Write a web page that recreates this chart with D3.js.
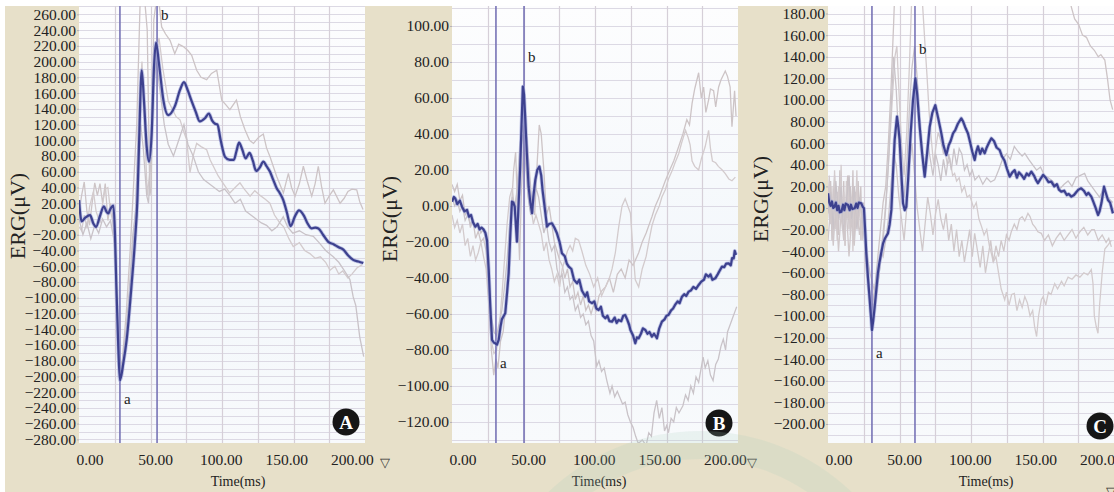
<!DOCTYPE html>
<html>
<head>
<meta charset="utf-8">
<script src="https://cdn.jsdelivr.net/npm/d3@7"></script>
<style>
body { margin: 0; background: #fff; }
svg { display: block; font-family: "Liberation Serif", "Times New Roman", serif; }
</style>
</head>
<body>
<svg width="1114" height="492"></svg>
<script>
// ---- data: [time (ms), amplitude (µV)] ----
var xTicks = [0, 50, 100, 150, 200];

var aTicks = d3.range(-280, 261, 20);
var bTicks = d3.range(-120, 101, 20);
var cTicks = d3.range(-200, 181, 20);

// a / b wave cursor positions (ms)
var aMarks = [23.2, 51.5];
var bMarks = [25.5, 46.9];
var cMarks = [25.5, 58.3];

var aLabels = [["a", 23.2, -235], ["b", 51.5, 253]];
var bLabels = [["a", 25.5, -90], ["b", 46.9, 80]];
var cLabels = [["a", 25.5, -139], ["b", 58.3, 143]];

var aMain = [[-8,24],[-6,-3],[-3,2],[0.4,5],[3,-6],[5,-10],[8,4],[11,16],[13,9],[14.3,7],[16,13],[18.2,17],[19.4,-18],[20.4,-81],[22,-166],[23.2,-205],[25.8,-183],[28.3,-154],[32.2,-81],[34.7,-27],[36.5,24],[38,109],[39.8,189],[41.5,151],[43.6,92],[45.4,73],[47.4,109],[49.2,194],[50.7,224],[53.2,194],[56.3,151],[60,132],[65,143],[69,164],[72,174],[75,163],[78,149],[81,136],[84,124],[88,128],[91,134],[93.5,125],[95.7,121],[97.5,120],[100,100],[103.3,79],[107,75],[110,75],[112,86],[114,97],[116.5,88],[119,77],[122,84],[124.5,74],[127,61],[130,66],[132.5,73],[135,67],[137.6,60],[140,50],[142.7,39],[145,33],[147.7,24],[150.5,8],[153.3,-9],[156.5,3],[159.7,11],[163.5,4],[166,-5],[169.3,-12],[172,-11],[174.5,-12],[178,-20],[182,-29],[186,-32],[190,-36],[193.5,-39],[197,-46],[201,-52],[205,-54],[208.7,-56]];

var aGray1 = [[-8,8],[-6,30],[-4,47],[-2,10],[0,-8],[2,20],[4,46],[6,30],[8,45],[10,20],[12,45],[14,-2],[16,20],[17.5,7],[19.5,-40],[21,-110],[23,-190],[25,-180],[28,-120],[31,-40],[33,24],[36,120],[38.5,270],[40,300],[42,280],[44,240],[46,30],[47,40],[49,253],[52,290],[55,244],[58,235],[61.4,227],[65,210],[68,222],[71.5,219],[75,214],[77.9,208],[81.7,189],[85,180],[89.3,177],[93,185],[97,189],[100.8,151],[104,145],[107,139],[112,151],[115,130],[118.6,113],[122,100],[125,96],[129,104],[132.5,108],[135,90],[137.6,79],[142.7,54],[147.8,33],[151.6,58],[154,40],[156.7,29],[160,45],[163,67],[166,48],[169.4,29],[172,45],[174.4,67],[177,40],[179.5,20],[183,30],[185.9,37],[188,30],[191,20],[194,26],[197,35],[200,38],[203.7,37],[206,22],[208.5,12]];

var aGray2 = [[-8,-10],[-6,-15],[-4,5],[-2,-12],[0,15],[3,35],[5,10],[8,-5],[10,20],[12,38],[14,40],[16,10],[18,-5],[20,-60],[22,-150],[24,-195],[26,-170],[29,-130],[32,-60],[35,10],[38,150],[40,200],[42,120],[44,30],[46,60],[48,150],[50,205],[53,230],[56,190],[60,150],[63,140],[66,130],[69,126],[72,110],[74,101],[76.6,59],[79,80],[81.7,96],[85,92],[89.3,88],[92,75],[94.4,67],[98,55],[102,45],[107,33],[111,40],[114.7,46],[118,38],[122.4,29],[126,36],[130,30],[134,25],[137.5,20],[141,5],[145,-5],[148,-10],[152,-25],[155.3,-35],[160,-30],[164,-40],[168,-44],[172,-50],[176,-48],[180,-55],[183.3,-65],[187,-60],[190,-70],[193,-66],[197,-75],[200,-70],[204,-62],[208,-58]];

var aGray3 = [[-8,0],[-5,-20],[-2,-5],[1,-25],[4,-8],[7,-18],[10,0],[13,-10],[16,-2],[19,-30],[21,-120],[23,-180],[25,-200],[27,-160],[30,-100],[33,-20],[36,20],[39,120],[41,90],[43.6,30],[45,20],[47,90],[49,170],[51,200],[54,160],[57,120],[60,95],[64,80],[68,100],[72,120],[75,95],[79,80],[83,60],[87,50],[91,45],[95,40],[99,35],[103,38],[107,30],[111,20],[115,25],[119,10],[123,5],[127,0],[131,-5],[135,-8],[139,-15],[143,-10],[147.7,3],[151,-10],[155,-18],[160,-15],[165,-20],[170.6,-22],[175,-30],[180,-40],[185.8,-48],[190,-55],[194,-65],[198.5,-77],[201,-99],[203,-110],[206,-150],[209,-175]];

var bMain = [[-8,2.4],[-6.5,5],[-5.5,4.2],[-4,1],[-2,3],[-0.4,-0.4],[1.5,-3],[3.4,-2.2],[5,-6],[6.5,-5],[8,-9],[9.8,-11.5],[11.5,-10],[13,-13],[14.5,-12],[16,-13],[17.5,-15],[18.7,-19],[20,-35.6],[21.2,-56],[22.5,-74.4],[24,-76],[25,-76.3],[26.3,-77],[27.6,-74.4],[29,-67],[30,-63],[31.5,-61],[32.6,-59.6],[34,-48],[35.2,-37.4],[36.5,-15],[37.7,2.4],[38.7,2],[39.8,-0.4],[41.5,-19.8],[43,5],[44,21.9],[45,45],[46,66.3],[46.9,62],[47.9,47.8],[49,30],[50.4,10.7],[51.7,2],[53,-4],[54,5],[55.5,14.5],[57,20],[58.6,21.9],[60,17],[61,9],[62.5,0],[64.4,-11.5],[66,-10],[68.2,-9.6],[70,-12],[72,-15.2],[74,-20],[75.8,-26.3],[78,-28],[79.5,-32],[81,-33.7],[83,-35],[85,-41],[87.3,-43],[89,-41],[91,-47],[93.6,-50.3],[95,-48],[96.5,-53],[98.7,-54],[100.5,-53],[102,-57],[103.8,-57.8],[105.5,-56],[107,-61],[108.9,-62.4],[110.5,-61],[112,-64],[114,-64.3],[116,-62],[117.5,-65],[119,-63.3],[121,-64],[122.5,-61],[124,-60.6],[125.5,-63],[127,-66],[128,-68.9],[130,-72],[131.7,-76.3],[133,-73],[134.3,-73.5],[136,-71],[137.5,-68],[139.4,-68.9],[141,-71],[142.5,-70],[144.4,-72.6],[146,-71],[148.2,-73.5],[150,-68],[152,-64.3],[154,-63],[155.5,-61],[157,-60.6],[159,-58],[160.5,-57],[162,-55],[164,-53],[165.5,-54],[167.3,-50.4],[169,-49],[170.5,-50],[172.4,-47.6],[174,-47],[176,-45],[178,-46],[180,-43.9],[182,-42],[184,-41],[185.5,-38],[187.6,-39.3],[189,-38],[190.5,-41],[192.7,-40.2],[194.5,-38],[196,-36],[197.8,-33.7],[199.5,-34],[201,-32],[202.9,-31.9],[204.5,-33],[205.5,-29],[206.7,-29.1],[207.5,-25],[208.5,-27.2]];

var bGray1 = [[-8,12],[-6,8],[-4,12],[-2,3],[0,6],[2,-5],[4,-2],[6,-12],[8,-8],[10,-18],[12,-14],[14,-20],[16,-18],[18,-25],[20,-50],[22,-80],[23.8,-94],[25.5,-85],[27,-90],[29,-75],[31,-70],[33,-55],[35,-35],[37,-5],[39,20],[40.5,30],[42,-2],[43.5,-30],[45,10],[47,40],[49,38],[51,20],[53,0],[55,-5],[57,25],[58.5,45],[60,40],[62,20],[64,-5],[66,0],[68,-10],[70,-20],[72,-25],[74,-30],[76,-33],[78,-40],[80,-35],[82,-45],[84,-42],[86,-52],[88,-48],[90,-55],[92,-50],[94,-58],[96,-55],[98,-60],[100,-55],[102,-58],[104,-50],[106.3,-47],[109,-45],[112,-40],[115,-48],[118,-38],[121,-35],[124,-40],[127,-30],[130,-33],[134.3,-26],[137,-20],[140,-15],[144.4,-6],[147,0],[150,5],[154.6,14],[158,20],[161,25],[164.8,33],[168,40],[171,48],[173,45],[175,57],[177,65],[180,74],[182,60],[183.8,66],[185.5,52],[187.6,59],[189,65],[191.4,64],[193,55],[195.2,66],[197,70],[200.3,75],[202,72],[204,66],[205.4,44],[206.5,55],[207.4,64],[208.5,50]];

var bGray2 = [[-8,-5],[-6,-12],[-4,-8],[-2,-15],[0,-10],[2,-22],[4,-18],[6,-28],[8,-22],[10,-30],[12,-26],[14,-20],[16,-28],[18,-35],[20,-55],[22,-75],[24,-82],[26,-80],[28,-68],[30,-50],[32,-30],[34,-10],[36,5],[38,10],[40,-5],[42,15],[44,35],[46,45],[48,30],[50,15],[52,0],[54,-10],[56,-5],[58,-10],[60,-15],[62,-25],[64,-20],[66,-30],[68,-35],[70,-42],[72,-38],[74,-45],[76,-35],[78,-30],[80,-25],[82,-22],[84,-25],[86,-18],[88.5,-19],[91,-25],[94,-33],[97,-38],[100,-45],[103,-40],[106,-50],[109,-45],[112,-40],[114,-35],[116.5,-26],[119,-12],[121.6,0],[124,4],[126,0],[128,-4],[130,-25],[131.7,-41],[134.3,-45],[137,-35],[140,-28],[142,-20],[144.4,-11],[147,-5],[150,0],[152,5],[154.6,9],[157,15],[160,20],[162,24],[164.8,29],[167,35],[170,42],[172,38],[173.5,34],[175,25],[177,22],[180,20],[182,26],[185,33],[187.6,42],[189,32],[190.5,25],[193,24],[195,22],[198,20],[200.3,18],[203,15],[205.4,14],[208,16]];

var bGray3 = [[-8,5],[-6,0],[-4,3],[-2,-3],[0,0],[2,-8],[4,-5],[6,-10],[8,-8],[10,-12],[12,-10],[14,-15],[16,-13],[18,-20],[20,-40],[22,-62],[24,-70],[26,-72],[28,-65],[30,-58],[32,-45],[34,-30],[36,-10],[38,5],[40,0],[42,10],[44,25],[46,40],[48,25],[50,5],[52,-5],[54,0],[56,10],[58,5],[60,-5],[62,-15],[64,-10],[66,-20],[68,-25],[70,-22],[72,-35],[74,-40],[76,-38],[78,-48],[80,-45],[82,-52],[84,-50],[86,-58],[88,-55],[90,-62],[92,-60],[94,-66],[96,-64],[98,-72],[100,-75],[102.3,-89],[104,-86],[106,-92],[108,-90],[110,-97],[112.4,-104],[114,-100],[116,-106],[118,-103],[119.7,-106],[122,-110],[124,-109],[126,-116],[128,-120],[130,-123],[132,-128],[134,-132],[137,-130],[140,-133],[142,-126],[144,-128],[146,-115],[148,-108],[150,-118],[152,-112],[154,-125],[155.6,-122],[157,-126],[159,-118],[161,-120],[163,-112],[165,-115],[168,-111],[170,-105],[172,-108],[174,-100],[176,-104],[178,-95],[180,-98],[183.4,-84],[185,-90],[187,-86],[189,-94],[191,-97],[193,-88],[195,-85],[197,-78],[198.8,-74],[200.5,-80],[202,-70],[204,-66],[206,-62],[208,-58],[209,-56]];

var cMain = [[-8,13.6],[-7,5],[-6,2],[-5,6],[-4,0],[-3,1.2],[-2,5],[-1,-2],[0,2],[1,-4],[2.2,-3.4],[3.5,3],[4.5,-2],[5.5,4],[7.2,2.8],[8.5,-2],[9.5,3],[10.5,-1],[12.3,-0.3],[13.5,4],[14.5,0],[15.5,5],[17.4,4.3],[18.5,1],[19.4,-0.3],[20.3,-20],[21.2,-42],[22.5,-65],[23.8,-85],[24.7,-100],[25.5,-113],[26.5,-104],[27.6,-91.4],[28.8,-76],[30,-60.5],[31,-52],[32.5,-42],[34,-32.7],[35.5,-28],[37.7,-23.5],[39,-15],[40.3,-1.8],[41.5,30],[42.8,63],[44.6,84.6],[45.6,75],[46.6,63],[48,30],[49.2,4.3],[50.5,-2],[51.7,1.2],[53,25],[55,69],[56.8,100],[58.6,120],[60,105],[61.9,75],[63.8,50],[65.7,29],[67.5,50],[69.5,75],[71.5,88],[73.8,95.2],[76,83],[78.4,69],[80,58],[82.2,49],[84,58],[85.5,62],[87.3,69],[89,72],[91,78],[93.6,83],[95,80],[96.5,75],[98.7,69],[100.5,60],[102,52],[103.8,44.4],[105,52],[106.3,57],[108,50],[109.5,55],[111.4,50.6],[113,56],[114.5,60],[116.5,64.5],[118.5,62],[120.5,56],[122.8,53.7],[124.5,48],[126.5,44],[128.5,36],[130.5,29],[132.5,33],[134.3,35],[136,28],[137.5,33],[139.4,30.6],[141.5,27],[143.5,32],[145,30],[147,33.6],[149,30],[150.5,26],[152,23],[154,27],[156,30.6],[158,28],[160,24],[162.2,24.4],[164.5,20],[166.5,22],[168,17],[169.8,15.1],[172,16],[174,12],[175.5,13],[177.5,10.5],[179.5,12],[181.5,15],[183,17],[185,18.2],[187,16],[189,12],[190.5,14],[192.7,10.5],[194.5,5],[196,0],[197.8,-6.5],[199,-3],[200.5,5],[202.4,19.7],[203.5,15],[205.4,7.4],[207,5],[209.2,-5]];

var cGray1 = [[-8,20],[-7,-10],[-6,25],[-5,-30],[-4,10],[-3,30],[-2,-20],[-1,15],[0,-25],[1,35],[2,0],[3,-15],[4,25],[5,-35],[6,10],[7,30],[8,-20],[9,20],[10,-10],[11,35],[12,-30],[13,15],[14,-15],[15,25],[16,-5],[17,20],[18,-30],[19,5],[20,-20],[21,-50],[22.5,-70],[24,-95],[26,-90],[28,-70],[30,-45],[32,-20],[34,5],[36,20],[38,60],[40,110],[42,170],[43.5,220],[45,300],[60,400],[100,400],[150,400],[172,300],[175,200],[177.5,186],[180,175],[183,170],[186,160],[189,158],[192,150],[195,146],[198,140],[200,142],[203,137],[205,120],[207,100],[209,91]];

var cGray2 = [[-8,5],[-7,30],[-6,-15],[-5,20],[-4,-25],[-3,35],[-2,0],[-1,-30],[0,20],[1,-10],[2,40],[3,-20],[4,15],[5,-35],[6,25],[7,-10],[8,30],[9,-25],[10,10],[11,-40],[12,20],[13,-5],[14,35],[15,-20],[16,10],[17,-30],[18,5],[19,-15],[20,-35],[21.5,-60],[23,-80],[25,-95],[27,-100],[29,-80],[31,-60],[33,-35],[35,-10],[37,20],[39,60],[41,100],[43,140],[44.5,150],[46,110],[48,60],[50,30],[52,70],[54,130],[56,200],[58,240],[60,250],[62,230],[64,190],[66,150],[67.5,122],[69,90],[71,60],[72.5,40],[74,55],[76,70],[78,62],[80,50],[81,54],[83,40],[85,45],[87,30],[88.5,32],[90,25],[92,28],[94,15],[96,20],[98,10],[100,12],[101,8],[103,0],[105,5],[107,-10],[109,-17],[111,-25],[113,-20],[115,-35],[116.5,-42],[118,-50],[120,-45],[122,-60],[124,-75],[126.7,-85],[128,-78],[130,-90],[132,-80],[134,-79],[136,-95],[138,-85],[140,-92],[142,-82],[144,-88],[146,-100],[148,-95],[149.5,-110],[151,-119],[152.5,-100],[154.6,-85],[156,-82],[158,-90],[160,-78],[162,-80],[164.8,-70],[167,-75],[170,-68],[172,-72],[175,-64],[178,-66],[181,-62],[184,-64],[187,-60],[190,-62],[192.7,-57],[194,-70],[195,-100],[196.5,-110],[197.8,-116],[199,-90],[201,-60],[203,-38],[205,-35],[208,-30]];

var cGray3 = [[-8,-5],[-6,15],[-4,-20],[-2,25],[0,-10],[2,20],[4,-25],[6,5],[8,30],[10,-15],[12,20],[14,-20],[16,10],[18,-10],[20,-30],[22,-60],[24,-80],[26,-95],[28,-85],[30,-70],[32,-50],[34,-30],[36,0],[38,40],[40,90],[42,140],[44,110],[46,60],[48,20],[50,10],[52,40],[54,90],[56,130],[58,150],[60,120],[62,80],[64,50],[66,35],[68,60],[70,45],[72,30],[74,50],[76,40],[78,25],[80,45],[82,30],[84,50],[86,35],[88,55],[90,40],[92,55],[94,50],[96,35],[98,40],[100,30],[102,35],[104,26],[107,30],[110,22],[113,28],[116,24],[119,26],[122,35],[125,45],[128,50],[131,45],[134,57],[137,52],[140,48],[142,50.6],[145,45],[148,40],[151,35],[154,38],[157,30],[160,28],[163,25],[166,20],[169,18],[172,22],[175,25],[178,20],[181,28],[184,30],[187.6,32],[190,25],[193,20],[196,15],[199,10],[202,18],[205,10],[209,5]];

var cGray4 = [[-8,-30],[-6,0],[-4,-35],[-2,5],[0,-40],[2,-5],[4,-30],[6,0],[8,-45],[10,-10],[12,-35],[14,5],[16,-25],[18,-5],[20,-20],[22,-45],[24,-60],[26,-70],[28,-80],[30,-60],[32,-40],[34,-45],[36,-30],[38,-10],[40,20],[42,50],[44,40],[46,10],[48,-10],[50,-30],[52,0],[54,40],[56,60],[58,30],[60,0],[62,-20],[64,-40],[66,-15],[68,10],[70,-5],[72,-25],[74,-5],[76,8],[78,-10],[80,-20],[82,-5],[84,-30],[86,-15],[88,-40],[90,-20],[92,-45],[94,-30],[96,-50],[98,-35],[100,-20],[102,-45],[103.8,-23.5],[106,-40],[108,-55],[110,-35],[112,-60],[114,-45],[116,-30],[118,-50],[120,-35],[122,-45],[124,-30],[126,-40],[128,-25],[130,-30],[131.7,-22],[134,-15],[136,-20],[138,-10],[140,-8],[142,-12],[144.4,-5],[146,-8],[148,-15],[150,-18],[152,-22],[154.6,-23.5],[157,-30],[160,-25],[163,-35],[166,-28],[169,-23],[172,-30],[175,-25],[178,-20],[181,-28],[184,-22],[187,-18],[190,-25],[193,-20],[195,-20],[198,-30],[201,-25],[204,-32],[206,-28],[208,-36]];

// ---- layout ----
var svg = d3.select("svg");
var W = 1114, H = 492;
var plotTop = 6, plotBottom = 443, plotW = 286;
var xDomain = [-8, 210];
var fmt = d3.format(".2f");

svg.append("rect")
    .attr("x", 5).attr("y", 6)
    .attr("width", W - 5).attr("height", H - 6)
    .attr("fill", "#e7e0c9");

var panels = [
    {name: "A", left: 79, yDomain: [-284.6, 270.6], ticks: aTicks, main: aMain, grays: [aGray1, aGray2, aGray3],
     marks: aMarks, labels: aLabels, ergX: 25, ergY: 216, timeX: 159, triX: 306, triY: 467, badgeX: 346, badgeY: 422, smooth: true},
    {name: "B", left: 452, yDomain: [-131.7, 111.1], ticks: bTicks, main: bMain, grays: [bGray1, bGray2, bGray3],
     marks: bMarks, labels: bLabels, ergX: 397, ergY: 219, timeX: 147, triX: 300, triY: 467, badgeX: 719, badgeY: 423, smooth: false},
    {name: "C", left: 828, yDomain: [-217.6, 187], ticks: cTicks, main: cMain, grays: [cGray1, cGray2, cGray3, cGray4],
     marks: cMarks, labels: cLabels, ergX: 768, ergY: 199, timeX: 158, triX: 283, triY: 496, badgeX: 1100, badgeY: 426, smooth: false}
];

var grayColors = ["#cdc4c6", "#d3cbcd", "#c9c3c8", "#d0c8ca"];

panels.forEach(function(p, pi) {
    var x = d3.scaleLinear().domain(xDomain).range([p.left, p.left + plotW]);
    var y = d3.scaleLinear().domain(p.yDomain).range([plotBottom, plotTop]);
    var g = svg.append("g");

    var grad = svg.append("defs").append("linearGradient")
        .attr("id", "bg" + pi).attr("x1", 0).attr("y1", 0).attr("x2", 0).attr("y2", 1);
    grad.append("stop").attr("offset", "0%").attr("stop-color", "#fdfdfe");
    grad.append("stop").attr("offset", "60%").attr("stop-color", "#f3f7fb");
    grad.append("stop").attr("offset", "100%").attr("stop-color", "#f8fafc");

    g.append("rect")
        .attr("x", x.range()[0]).attr("y", plotTop)
        .attr("width", plotW).attr("height", plotBottom - plotTop)
        .attr("fill", "url(#bg" + pi + ")");

    // horizontal grid every 10 µV
    var hLines = d3.range(Math.ceil(p.yDomain[0] / 10) * 10, p.yDomain[1], 10);
    g.selectAll(".hg").data(hLines).enter().append("line")
        .attr("x1", x.range()[0]).attr("x2", x.range()[1])
        .attr("y1", function(d) { return Math.round(y(d)) + 0.5; })
        .attr("y2", function(d) { return Math.round(y(d)) + 0.5; })
        .attr("stroke", "#dcd9e4").attr("stroke-width", 1);

    // vertical grid: 8 equal divisions
    var step = (xDomain[1] - xDomain[0]) / 8;
    var vLines = d3.range(1, 8).map(function(i) { return xDomain[0] + i * step; });
    g.selectAll(".vg").data(vLines).enter().append("line")
        .attr("x1", function(d) { return Math.round(x(d)) + 0.5; })
        .attr("x2", function(d) { return Math.round(x(d)) + 0.5; })
        .attr("y1", plotTop).attr("y2", plotBottom)
        .attr("stroke", "#d6cfd8").attr("stroke-width", 1.2);

    svg.append("clipPath").attr("id", "clip" + pi)
        .append("rect")
        .attr("x", x.range()[0]).attr("y", plotTop)
        .attr("width", plotW).attr("height", plotBottom - plotTop);

    var plot = g.append("g").attr("clip-path", "url(#clip" + pi + ")");

    var line = d3.line()
        .x(function(d) { return x(d[0]); })
        .y(function(d) { return y(d[1]); })
        .curve(p.smooth ? d3.curveMonotoneX : d3.curveLinear);
    var grayLine = d3.line()
        .x(function(d) { return x(d[0]); })
        .y(function(d) { return y(d[1]); });

    p.grays.forEach(function(s, i) {
        plot.append("path").datum(s)
            .attr("d", grayLine)
            .attr("fill", "none")
            .attr("stroke", grayColors[i])
            .attr("stroke-width", 1.3);
    });

    // cursor lines
    plot.selectAll(".mark").data(p.marks).enter().append("line")
        .attr("x1", function(d) { return x(d); })
        .attr("x2", function(d) { return x(d); })
        .attr("y1", plotTop).attr("y2", plotBottom)
        .attr("stroke", "#7773b6").attr("stroke-width", 1.6);

    plot.append("path").datum(p.main)
        .attr("d", line)
        .attr("fill", "none")
        .attr("stroke", "#9aa0d6")
        .attr("stroke-opacity", 0.6)
        .attr("stroke-width", 3.8)
        .attr("stroke-linejoin", "round");
    plot.append("path").datum(p.main)
        .attr("d", line)
        .attr("fill", "none")
        .attr("stroke", "#3d418f")
        .attr("stroke-width", 2.2)
        .attr("stroke-linejoin", "round");

    // a / b labels
    g.selectAll(".lab").data(p.labels).enter().append("text")
        .attr("x", function(d) { return x(d[1]) + 4; })
        .attr("y", function(d) { return y(d[2]); })
        .attr("font-size", 15)
        .attr("fill", "#222")
        .text(function(d) { return d[0]; });

    // y axis
    var yAxis = g.append("g")
        .attr("transform", "translate(" + x.range()[0] + ",0)")
        .call(d3.axisLeft(y).tickValues(p.ticks).tickFormat(fmt).tickSize(2).tickPadding(1));
    yAxis.select(".domain").remove();
    yAxis.attr("font-family", null).attr("font-size", 15.5).attr("color", "#222");
    yAxis.selectAll("line").attr("stroke", "#b5b0b5");

    // x axis
    var xAxis = g.append("g")
        .attr("transform", "translate(0," + plotBottom + ")")
        .call(d3.axisBottom(x).tickValues(xTicks).tickFormat(fmt).tickSize(0).tickPadding(11));
    xAxis.select(".domain").remove();
    xAxis.attr("font-family", null).attr("font-size", 15.5).attr("color", "#222");

    g.append("text")
        .attr("x", p.left + p.timeX).attr("y", 486)
        .attr("text-anchor", "middle")
        .attr("font-size", 14)
        .attr("fill", "#222")
        .text("Time(ms)");

    g.append("text")
        .attr("x", p.left + p.triX).attr("y", p.triY)
        .attr("text-anchor", "middle")
        .attr("font-size", 13)
        .attr("fill", "#333")
        .text("▽");

    g.append("text")
        .attr("transform", "translate(" + p.ergX + "," + p.ergY + ") rotate(-90)")
        .attr("text-anchor", "middle")
        .attr("font-size", 22)
        .attr("fill", "#222")
        .text("ERG(μV)");

    g.append("circle")
        .attr("cx", p.badgeX).attr("cy", p.badgeY).attr("r", 13.5)
        .attr("fill", "#161616");
    g.append("text")
        .attr("x", p.badgeX).attr("y", p.badgeY + 6.5)
        .attr("text-anchor", "middle")
        .attr("font-size", 19)
        .attr("font-weight", "bold")
        .attr("fill", "#fff")
        .text(p.name);
});

// faint watermark ring
svg.append("circle")
    .attr("cx", 700).attr("cy", 650).attr("r", 205)
    .attr("fill", "none")
    .attr("stroke", "#a9cbbf")
    .attr("stroke-opacity", 0.18)
    .attr("stroke-width", 28);
</script>
</body>
</html>
